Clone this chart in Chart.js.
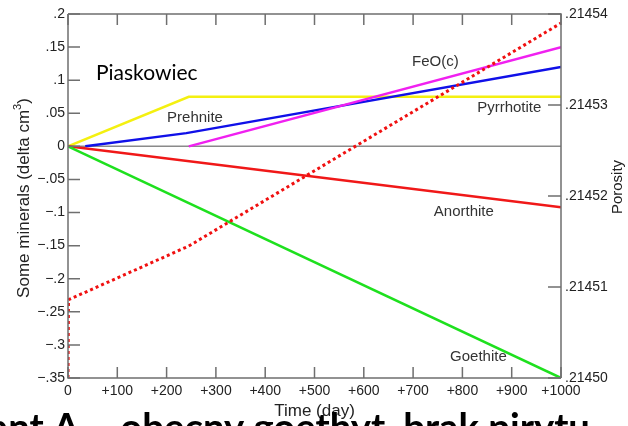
<!DOCTYPE html>
<html>
<head>
<meta charset="utf-8">
<script src="https://cdn.jsdelivr.net/npm/chart.js@4.4.1/dist/chart.umd.min.js"></script>
<style>
html,body{margin:0;padding:0;background:#fff;overflow:hidden;}
#wrap{position:relative;width:628px;height:426px;}
</style>
</head>
<body>
<div id="wrap"><canvas id="c" width="628" height="426"></canvas></div>
<script>
// ---- data ----
const xTicks = [0,100,200,300,400,500,600,700,800,900,1000];
const leftTicks = [0.2,0.15,0.1,0.05,0,-0.05,-0.1,-0.15,-0.2,-0.25,-0.3,-0.35];
const rightTicks = [0.21454,0.21453,0.21452,0.21451,0.21450];

const pyrrhotiteT = [0, 245, 1000];
const pyrrhotiteV = [0, 0.075, 0.075];
const prehniteT = [35, 240, 1000];
const prehniteV = [0, 0.020, 0.120];
const feoT = [245, 1000];
const feoV = [0, 0.150];
const anorthiteT = [0, 1000];
const anorthiteV = [0, -0.092];
const goethiteT = [0, 1000];
const goethiteV = [0, -0.35];
const porosityT = [0, 1, 245, 1000];
const porosityV = [0.21450, 0.2145086, 0.2145145, 0.2145390];

const labelTexts = ['Prehnite','FeO(c)','Pyrrhotite','Anorthite','Goethite'];
const labelT = [201, 698, 830, 742, 775];
const labelV = [0.043, 0.127, 0.058, -0.099, -0.318];

const pts = (t,v) => t.map((x,i)=>({x:x,y:v[i]}));

const axisColor = '#6f6f6f';

const decor = {
  id:'decor',
  beforeDatasetsDraw(chart){
    const {ctx, chartArea:a, scales} = chart;
    const y0 = scales.y.getPixelForValue(0);
    ctx.save();
    ctx.strokeStyle = '#8a8a8a';
    ctx.lineWidth = 1.5;
    ctx.beginPath(); ctx.moveTo(a.left, y0); ctx.lineTo(a.right, y0); ctx.stroke();
    ctx.restore();
  },
  afterDraw(chart){
    const {ctx, chartArea:a, scales} = chart;
    ctx.save();
    ctx.strokeStyle = axisColor;
    ctx.lineWidth = 1.5;
    ctx.beginPath();
    ctx.moveTo(a.left, a.top); ctx.lineTo(a.left, a.bottom); ctx.lineTo(a.right, a.bottom);
    ctx.moveTo(a.left, a.top); ctx.lineTo(a.right, a.top); ctx.lineTo(a.right, a.bottom);
    ctx.stroke();
    ctx.beginPath();
    xTicks.forEach(t=>{
      const px = scales.x.getPixelForValue(t);
      ctx.moveTo(px, a.bottom); ctx.lineTo(px, a.bottom-11);
      ctx.moveTo(px, a.top); ctx.lineTo(px, a.top+11);
    });
    leftTicks.forEach(v=>{
      const py = scales.y.getPixelForValue(v);
      ctx.moveTo(a.left, py); ctx.lineTo(a.left+12, py);
    });
    rightTicks.forEach(v=>{
      const py = scales.y2.getPixelForValue(v);
      ctx.moveTo(a.right, py); ctx.lineTo(a.right-13, py);
    });
    ctx.stroke();

    // annotation labels
    ctx.fillStyle = '#333';
    ctx.font = '15px "Liberation Sans", Arial, sans-serif';
    ctx.textBaseline = 'middle';
    ctx.textAlign = 'left';
    labelTexts.forEach((s,i)=>{
      ctx.fillText(s, scales.x.getPixelForValue(labelT[i]), scales.y.getPixelForValue(labelV[i]));
    });
    ctx.fillStyle = '#000';
    ctx.font = '21px Lato, "Open Sans", sans-serif';
    ctx.fillText('Piaskowiec', 96, 73);

    // axis titles
    ctx.fillStyle = '#222';
    ctx.font = '17px "Liberation Sans", Arial, sans-serif';
    ctx.textAlign = 'center';
    ctx.fillText('Time (day)', (a.left+a.right)/2, 411);
    ctx.save();
    ctx.translate(24, 198);
    ctx.rotate(-Math.PI/2);
    const t1 = 'Some minerals (delta cm', t2 = '3', t3 = ')';
    const w1 = ctx.measureText(t1).width;
    ctx.font = '11px "Liberation Sans", Arial, sans-serif';
    const w2 = ctx.measureText(t2).width;
    ctx.font = '17px "Liberation Sans", Arial, sans-serif';
    const w3 = ctx.measureText(t3).width;
    let sx = -(w1+w2+w3)/2;
    ctx.textAlign = 'left';
    ctx.fillText(t1, sx, 0);
    ctx.font = '11px "Liberation Sans", Arial, sans-serif';
    ctx.fillText(t2, sx+w1, -6);
    ctx.font = '17px "Liberation Sans", Arial, sans-serif';
    ctx.fillText(t3, sx+w1+w2, 0);
    ctx.restore();
    ctx.save();
    ctx.translate(618, 187);
    ctx.rotate(-Math.PI/2);
    ctx.font = '15px "Liberation Sans", Arial, sans-serif';
    ctx.textAlign = 'center';
    ctx.fillText('Porosity', 0, 0);
    ctx.restore();

    // cut-off caption at the bottom of the picture
    ctx.fillStyle = '#000';
    ctx.textAlign = 'left';
    ctx.textBaseline = 'alphabetic';
    const pre = 'Wariant ', tail = 'A \u2013 obecny goethyt, brak pirytu';
    const fam = 'Lato, "Open Sans", sans-serif';
    ctx.font = 'bold 100px ' + fam;
    const wt = ctx.measureText(tail).width;
    const size = 100*(590-53)/wt;
    ctx.font = 'bold '+size.toFixed(2)+'px ' + fam;
    const wp = ctx.measureText(pre).width;
    const capA = ctx.measureText('A').actualBoundingBoxAscent || size*0.72;
    ctx.fillText(pre+tail, 53 - wp, 413 + capA);
    ctx.restore();
  }
};

const fmtLeft = v => {
  const r = Math.round(v*100)/100;
  if (r === 0) return '0';
  const s = Math.abs(r).toString().replace(/^0/, '');
  return (r < 0 ? '\u2212' : '') + s;
};

new Chart(document.getElementById('c'), {
  type:'scatter',
  data:{
    datasets:[
      {label:'Porosity', data:pts(porosityT,porosityV), yAxisID:'y2', showLine:true,
       borderColor:'#f01010', borderWidth:3, borderDash:[3,3], pointRadius:0, borderCapStyle:'butt'},
      {label:'Goethite', data:pts(goethiteT,goethiteV), yAxisID:'y', showLine:true,
       borderColor:'#1ee01e', borderWidth:2.5, pointRadius:0},
      {label:'Anorthite', data:pts(anorthiteT,anorthiteV), yAxisID:'y', showLine:true,
       borderColor:'#f01818', borderWidth:2.5, pointRadius:0},
      {label:'FeO(c)', data:pts(feoT,feoV), yAxisID:'y', showLine:true,
       borderColor:'#f020f0', borderWidth:2.5, pointRadius:0},
      {label:'Prehnite', data:pts(prehniteT,prehniteV), yAxisID:'y', showLine:true,
       borderColor:'#1010e8', borderWidth:2.5, pointRadius:0},
      {label:'Pyrrhotite', data:pts(pyrrhotiteT,pyrrhotiteV), yAxisID:'y', showLine:true,
       borderColor:'#f4f010', borderWidth:2.5, pointRadius:0}
    ]
  },
  options:{
    responsive:false,
    animation:false,
    devicePixelRatio:1,
    layout:{padding:{top:14,left:0,right:0,bottom:0}},
    plugins:{legend:{display:false}, tooltip:{enabled:false}},
    scales:{
      x:{type:'linear', min:0, max:1000,
         afterBuildTicks(s){ s.ticks = xTicks.map(v=>({value:v})); },
         afterFit(s){ s.height = 48; },
         grid:{display:false, drawTicks:false}, border:{display:false},
         ticks:{padding:5, color:'#222', font:{family:'"Liberation Sans", Arial, sans-serif', size:14},
                maxRotation:0, autoSkip:false,
                callback:v=> v===0 ? '0' : '+'+v}},
      y:{type:'linear', position:'left', min:-0.35, max:0.2,
         afterBuildTicks(s){ s.ticks = leftTicks.map(v=>({value:v})); },
         afterFit(s){ s.width = 68; },
         grid:{display:false, drawTicks:false}, border:{display:false},
         ticks:{padding:3, color:'#222', font:{family:'"Liberation Sans", Arial, sans-serif', size:14},
                autoSkip:false, callback:fmtLeft}},
      y2:{type:'linear', position:'right', min:0.21450, max:0.21454,
         afterBuildTicks(s){ s.ticks = rightTicks.map(v=>({value:v})); },
         afterFit(s){ s.width = 67; },
         grid:{display:false, drawTicks:false}, border:{display:false},
         ticks:{padding:4, color:'#222', font:{family:'"Liberation Sans", Arial, sans-serif', size:14},
                autoSkip:false, callback:v=> v.toFixed(5).replace(/^0/,'')}}
    }
  },
  plugins:[decor]
});
</script>
</body>
</html>
